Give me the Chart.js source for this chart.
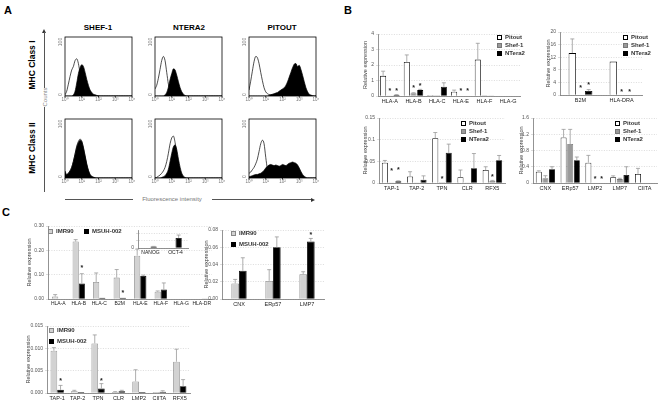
<!DOCTYPE html>
<html>
<head>
<meta charset="utf-8">
<script src="https://cdn.jsdelivr.net/npm/chart.js@4"></script>
<style>
body{margin:0;width:661px;height:404px;background:#fff;position:relative;overflow:hidden;font-family:'Liberation Sans',Arial,sans-serif}
.t{position:absolute;white-space:nowrap;line-height:1}
.c{transform:translate(-50%,-50%)}
.rot{transform:translate(-50%,-50%) rotate(-90deg)}
.hl{position:absolute;border-top:1px solid #555;height:0}
.vl{position:absolute;border-left:1px solid #555;width:0}
.ar{position:absolute;width:0;height:0}
canvas{position:absolute}
.lg{position:absolute;font-size:6px;font-weight:bold;color:#333;white-space:nowrap;line-height:1}
.lg i{display:inline-block;width:5px;height:5px;box-sizing:border-box;border:0.8px solid #000;margin-right:3px;vertical-align:-0.5px}
</style>
</head>
<body>
<div class="t" style="left:4px;top:4px;font:bold 11px 'Liberation Sans'">A</div>
<div class="t" style="left:344px;top:4px;font:bold 11px 'Liberation Sans'">B</div>
<div class="t" style="left:2px;top:206px;font:bold 11px 'Liberation Sans'">C</div>

<div class="t c" style="left:98px;top:27px;font:bold 8px 'Liberation Sans'">SHEF-1</div>
<div class="t c" style="left:189px;top:27px;font:bold 8px 'Liberation Sans'">NTERA2</div>
<div class="t c" style="left:282px;top:27px;font:bold 8px 'Liberation Sans'">PITOUT</div>
<div class="t rot" style="left:32px;top:65px;font:bold 8.5px 'Liberation Sans'">MHC Class I</div>
<div class="t rot" style="left:32px;top:148px;font:bold 8.5px 'Liberation Sans'">MHC Class II</div>
<div class="ar" style="left:42px;top:29px;border-left:2px solid transparent;border-right:2px solid transparent;border-bottom:4px solid #333"></div>
<div class="vl" style="left:44px;top:32px;height:56px"></div>
<div class="t rot" style="left:44.5px;top:97px;font:6px 'Liberation Sans';color:#888">Counts</div>
<div class="vl" style="left:44px;top:107px;height:85px"></div>
<div class="hl" style="left:65px;top:199px;width:68px"></div>
<div class="t c" style="left:172px;top:199px;font:6px 'Liberation Sans';color:#777">Fluorescence intensity</div>
<div class="hl" style="left:212px;top:199px;width:100px"></div>
<div class="ar" style="left:311px;top:197.5px;border-top:2px solid transparent;border-bottom:2px solid transparent;border-left:4px solid #333"></div>

<script>
// flow cytometry histograms (x = log10 fluorescence, y = counts)
const decades = [0,0.1,0.2,0.3,0.4,0.5,0.6,0.7,0.8,0.9,1,1.1,1.2,1.3,1.4,1.5,1.6,1.7,1.8,1.9,2,2.1,2.2,2.3,2.4,2.5,2.6,2.7,2.8,2.9,3,3.1,3.2,3.3,3.4,3.5,3.6,3.7,3.8,3.9,4];
const shefI_iso = [2,8,20,33,44,50,60,63,55,38, 22,10,5,2,1,0,0,0,0,0, 0,0,0,0,0,0,0,0,0,0, 0,0,0,0,0,0,0,0,0,0, 0];
const shefI_ab  = [0,0,0,0,0,2,8,22,38,48, 53,50,40,28,18,10,6,3,2,1, 0.5,0,0,0,0,0,0,0,0,0, 0,0,0,0,0,0,0,0,0,0, 0];
const nteraI_iso = [12,18,30,45,60,67,60,40,20,8, 3,1,0,0,0,0,0,0,0,0, 0,0,0,0,0,0,0,0,0,0, 0,0,0,0,0,0,0,0,0,0, 0];
const nteraI_ab  = [0,0,0,0,0,0,2,6,15,28, 38,46,44,35,24,14,7,3,1,0, 0,0,0,0,0,0,0,0,0,0, 0,0,0,0,0,0,0,0,0,0, 0];
const pitI_iso = [10,25,42,58,67,65,55,40,26,14, 7,4,2.5,2,2,2,2,2,2,2, 2,1.5,1,0.5,0,0,0,0,0,0, 0,0,0,0,0,0,0,0,0,0, 0];
const pitI_ab  = [0,0,0,0,0,0,0,0,0,0, 0,0,1,2,3,4,5,6,8,10, 12,14,18,24,32,40,48,54,55,50, 52,45,35,24,14,7,3,1.5,0.5,0, 0];
const shefII_iso = [3,5,8,12,18,28,41,54,62,66, 62,50,36,22,12,5,2,1,0,0, 0,0,0,0,0,0,0,0,0,0, 0,0,0,0,0,0,0,0,0,0, 0];
const shefII_ab  = [12,6,8,12,18,28,40,52,60,64, 62,52,38,24,13,6,3,1.5,0.5,0, 0,0,0,0,0,0,0,0,0,0, 0,0,0,0,0,0,0,0,0,0, 0];
const nteraII_iso = [0,1,3,5,8,12,18,28,42,58, 68,71,60,40,20,8,3,1,0,0, 0,0,0,0,0,0,0,0,0,0, 0,0,0,0,0,0,0,0,0,0, 0];
const nteraII_ab  = [0,0,0,0,1,2,4,8,15,28, 42,53,56,48,32,18,8,3,1,0, 0,0,0,0,0,0,0,0,0,0, 0,0,0,0,0,0,0,0,0,0, 0];
const pitII_iso = [8,10,14,18,24,32,45,58,64,58, 35,15,6,3,2,1,0,0,0,0, 0,0,0,0,0,0,0,0,0,0, 0,0,0,0,0,0,0,0,0,0, 0];
const pitII_ab  = [2,3,4,5,6,6,7,8,10,13, 17,20,22,23,22,21,22,21,20,21, 23,22,21,23,25,26,27,26,25,22, 17,11,6,3,1,0,0,0,0,0, 0];
const histXTicks = [0,1,2,3,4];
const histYTicks = [0,100];

// panel B: Pitout / Shef-1 / NTera2
const seriesB = ['Pitout','Shef-1','NTera2'];
const catsB1 = ['HLA-A','HLA-B','HLA-C','HLA-E','HLA-F','HLA-G'];
const pitB1 = [1.3,2.2,0.07,0.28,2.35,0];
const pitB1Err = [0.3,0.45,0,0.1,1.05,0];
const shefB1 = [0.03,0.18,0.05,0,0.05,0];
const shefB1Err = [0,0.03,0,0,0,0];
const shefB1Star = [0.44,0.63,null,0.44,null,null];
const ntB1 = [0.07,0.38,0.6,0,0.03,0];
const ntB1Err = [0.02,0.05,0.25,0,0,0];
const ntB1Star = [0.44,0.76,null,0.44,null,null];

const catsB2 = ['B2M','HLA-DRA'];
const pitB2 = [13.3,10.6];
const pitB2Err = [4.5,0];
const shefB2 = [0.1,0];
const shefB2Star = [2.7,1.5];
const ntB2 = [1.3,0];
const ntB2Err = [0.4,0];
const ntB2Star = [3.5,1.5];

const catsB3 = ['TAP-1','TAP-2','TPN','CLR','RFX5'];
const pitB3 = [0.047,0.015,0.1035,0.0135,0.03];
const pitB3Err = [0.005,0.011,0.013,0.0165,0.0075];
const shefB3 = [0.001,0.001,0.002,0.001,0.005];
const shefB3Err = [0,0,0,0,0.001];
const shefB3Star = [0.0315,null,0.0135,null,0.0165];
const ntB3 = [0.004,0.0075,0.0697,0.034,0.0525];
const ntB3Err = [0.001,0.009,0.02,0.034,0.011];
const ntB3Star = [0.034,null,null,null,null];

const catsB4 = ['CNX','ERp57','LMP2','LMP7','CIITA'];
const pitB4 = [0.28,1.12,0.5,0.144,0.224];
const pitB4Err = [0.02,0.2,0.18,0.032,0.136];
const shefB4 = [0.12,0.96,0,0.096,0];
const shefB4Err = [0.06,0.36,0,0.02,0];
const shefB4Star = [null,null,0.14,null,null];
const ntB4 = [0.34,0.56,0,0.2,0];
const ntB4Err = [0.06,0.08,0,0.2,0];
const ntB4Star = [null,null,0.14,null,null];

// panel C: IMR90 / MSUH-002
const seriesC = ['IMR90','MSUH-002'];
const catsC1 = ['HLA-A','HLA-B','HLA-C','B2M','HLA-E','HLA-F','HLA-G','HLA-DR'];
const imrC1 = [0.01,0.236,0.07,0.088,0.178,0.03,0,0.001];
const imrC1Err = [0.008,0.008,0.037,0.033,0.027,0.003,0,0];
const msuhC1 = [0.001,0.064,0.005,0.005,0.095,0.039,0,0.002];
const msuhC1Err = [0,0.04,0,0,0.003,0.027,0,0];
const msuhC1Star = [null,0.132,null,0.031,null,null,null,null];

const catsIns = ['NANOG','OCT-4'];
const imrIns = [0.0005,0.0008];
const msuhIns = [0.004,0.028];
const msuhInsErr = [0.0005,0.008];

const catsC2 = ['CNX','ERp57','LMP7'];
const imrC2 = [0.018,0.021,0.0286];
const imrC2Err = [0.0047,0.013,0.003];
const msuhC2 = [0.0328,0.06,0.0667];
const msuhC2Err = [0.015,0.012,0.0035];
const msuhC2Star = [null,null,0.076];

const catsC3 = ['TAP-1','TAP-2','TPN','CLR','LMP2','CIITA','RFX5'];
const imrC3 = [0.00945,0.0004,0.0111,0.0002,0.0026,0.0002,0.007];
const imrC3Err = [0.0007,0.0002,0.0019,0.0001,0.0026,0,0.0028];
const msuhC3 = [0.0007,0.0002,0.001,0.0004,0.0002,0.0003,0.0015];
const msuhC3Err = [0.001,0,0.0011,0.0002,0,0.0002,0.0015];
const msuhC3Star = [0.003,null,0.003,null,null,null,null];

Chart.defaults.font.family = "'Liberation Sans', Arial, sans-serif";
const FONT = "'Liberation Sans', Arial, sans-serif";
const sup = ['\u2070','\u00b9','\u00b2','\u00b3','\u2074'];

// box round the histogram plus its tick labels
const histDeco = {
  id: 'histDeco',
  afterDraw(ch) {
    const a = ch.chartArea, c = ch.ctx, sx = ch.scales.x, sy = ch.scales.y;
    c.save();
    c.strokeStyle = '#000'; c.lineWidth = 0.8;
    c.strokeRect(a.left, a.top, a.right - a.left, a.bottom - a.top);
    c.fillStyle = '#777'; c.font = '4.5px ' + FONT;
    c.textAlign = 'center'; c.textBaseline = 'top';
    histXTicks.forEach(function (v) {
      const px = sx.getPixelForValue(v);
      c.fillText('10' + sup[v], px, a.bottom + 2);
      c.beginPath(); c.moveTo(px, a.bottom); c.lineTo(px, a.bottom + 1.5); c.stroke();
    });
    c.font = '5px ' + FONT; c.textBaseline = 'middle';
    histYTicks.forEach(function (v) {
      const py = sy.getPixelForValue(v);
      c.save();
      c.translate(a.left - 4, v ? py + 5 : py - 1.5);
      c.rotate(-Math.PI / 2);
      c.fillText(String(v), 0, 0);
      c.restore();
    });
    c.restore();
  }
};

// error bars (upper only), significance asterisks and category labels
const barExtras = {
  id: 'barExtras',
  afterDraw(ch, args, opts) {
    const c = ch.ctx, y = ch.scales.y, x = ch.scales.x, a = ch.chartArea;
    ch.data.datasets.forEach(function (ds, i) {
      const meta = ch.getDatasetMeta(i);
      meta.data.forEach(function (bar, j) {
        const e = ds.err ? ds.err[j] : 0;
        if (e) {
          const yt = y.getPixelForValue(ds.data[j] + e);
          c.save(); c.strokeStyle = '#999'; c.lineWidth = 0.8;
          c.beginPath(); c.moveTo(bar.x, bar.y); c.lineTo(bar.x, yt);
          c.moveTo(bar.x - 2, yt); c.lineTo(bar.x + 2, yt); c.stroke(); c.restore();
        }
        const s = ds.star ? ds.star[j] : null;
        if (s != null) {
          c.save(); c.fillStyle = '#222'; c.font = 'bold 7px ' + FONT;
          c.textAlign = 'center'; c.textBaseline = 'middle';
          c.fillText('*', bar.x, y.getPixelForValue(s) + 1.5); c.restore();
        }
      });
    });
    c.save(); c.fillStyle = '#222'; c.font = (opts.size || 5.5) + 'px ' + FONT;
    c.textAlign = 'center'; c.textBaseline = 'top';
    ch.data.labels.forEach(function (l, j) {
      c.fillText(l, x.getPixelForValue(j), a.bottom + 2.5);
    });
    c.restore();
  }
};

function mkHist(left, top, iso, ab) {
  const yW = 13, padT = 4, padR = 5, xH = 9, w = 67, h = 59;
  const cv = document.createElement('canvas');
  cv.width = yW + w + padR; cv.height = padT + h + xH;
  cv.style.left = (left - yW) + 'px'; cv.style.top = (top - padT) + 'px';
  document.body.appendChild(cv);
  new Chart(cv, {
    type: 'line',
    data: {
      labels: decades,
      datasets: [
        {data: iso, borderColor: '#000', borderWidth: 0.7, pointRadius: 0, fill: false, cubicInterpolationMode: 'monotone', order: 0},
        {data: ab, borderColor: '#000', backgroundColor: '#000', borderWidth: 0.7, pointRadius: 0, fill: 'origin', cubicInterpolationMode: 'monotone', order: 1}
      ]
    },
    options: {
      responsive: false, animation: false, devicePixelRatio: 1,
      layout: {padding: {top: padT, right: padR, left: 0, bottom: 0}},
      plugins: {legend: {display: false}, tooltip: {enabled: false}},
      scales: {
        x: {type: 'linear', min: 0, max: 4, grid: {display: false}, border: {display: false},
            ticks: {display: false}, afterFit: s => { s.height = xH; }},
        y: {min: 0, max: 100, grid: {display: false}, border: {display: false},
            ticks: {display: false}, afterFit: s => { s.width = yW; }}
      }
    },
    plugins: [histDeco]
  });
}

mkHist(65, 37, shefI_iso, shefI_ab);
mkHist(155, 37, nteraI_iso, nteraI_ab);
mkHist(249, 37, pitI_iso, pitI_ab);
mkHist(65, 119, shefII_iso, shefII_ab);
mkHist(155, 119, nteraII_iso, nteraII_ab);
mkHist(249, 119, pitII_iso, pitII_ab);

const styleB = [{bg: '#fff', bd: '#000'}, {bg: '#9a9a9a', bd: '#777'}, {bg: '#000', bd: '#000'}];
const styleC = [{bg: '#d2d2d2', bd: '#888'}, {bg: '#000', bd: '#000'}];

function mkBar(g, cats, series, styles, y) {
  const padT = 4, padR = 3, xH = 10;
  const cv = document.createElement('canvas');
  cv.width = g.right - g.x + g.yW + padR;
  cv.height = g.bottom - g.top + padT + xH;
  cv.style.left = (g.x - g.yW) + 'px'; cv.style.top = (g.top - padT) + 'px';
  document.body.appendChild(cv);
  new Chart(cv, {
    type: 'bar',
    data: {
      labels: cats,
      datasets: series.map(function (s, i) {
        return {label: s.name, data: s.data, err: s.err, star: s.star,
          backgroundColor: styles[i].bg, borderColor: styles[i].bd, borderWidth: 0.8,
          categoryPercentage: g.cat, barPercentage: g.bar};
      })
    },
    options: {
      responsive: false, animation: false, devicePixelRatio: 1,
      layout: {padding: {top: padT, right: padR, left: 0, bottom: 0}},
      plugins: {legend: {display: false}, tooltip: {enabled: false}, barExtras: {size: g.xf || 5.5}},
      scales: {
        x: {grid: {display: false}, border: {color: '#777', width: 0.8},
            ticks: {display: false}, afterFit: s => { s.height = xH; }},
        y: {min: 0, max: y.max,
            ticks: {stepSize: y.step, color: '#555', font: {size: 5}, padding: 2, callback: y.fmt},
            grid: {color: '#c4c4c4', lineWidth: 0.6, tickLength: 2},
            border: {color: '#777', width: 0.8, dash: [1, 1.5]},
            title: {display: !g.noTitle, text: 'Relative expression', color: '#444', font: {size: 5.5}, padding: 0},
            afterFit: s => { s.width = g.yW; }}
      }
    },
    plugins: [barExtras]
  });
}

function legend(x, y, gap, names, styles) {
  names.forEach(function (n, i) {
    const d = document.createElement('div');
    d.className = 'lg';
    d.style.left = x + 'px'; d.style.top = (y + i * gap) + 'px';
    d.innerHTML = '<i style="background:' + styles[i].bg + ';border-color:' + styles[i].bd + '"></i>' + n;
    document.body.appendChild(d);
  });
}

mkBar({x: 378, top: 33, right: 520, bottom: 96, yW: 16, cat: 0.85, bar: 0.9}, catsB1,
  [{name: seriesB[0], data: pitB1, err: pitB1Err}, {name: seriesB[1], data: shefB1, err: shefB1Err, star: shefB1Star}, {name: seriesB[2], data: ntB1, err: ntB1Err, star: ntB1Star}],
  styleB, {max: 4, step: 1, fmt: v => String(v)});
mkBar({x: 560, top: 31, right: 642, bottom: 95, yW: 15, cat: 0.6, bar: 0.9}, catsB2,
  [{name: seriesB[0], data: pitB2, err: pitB2Err}, {name: seriesB[1], data: shefB2, star: shefB2Star}, {name: seriesB[2], data: ntB2, err: ntB2Err, star: ntB2Star}],
  styleB, {max: 20, step: 4, fmt: v => String(v)});
mkBar({x: 379, top: 117, right: 505, bottom: 183, yW: 17, cat: 0.8, bar: 0.9}, catsB3,
  [{name: seriesB[0], data: pitB3, err: pitB3Err}, {name: seriesB[1], data: shefB3, err: shefB3Err, star: shefB3Star}, {name: seriesB[2], data: ntB3, err: ntB3Err, star: ntB3Star}],
  styleB, {max: 0.15, step: 0.05, fmt: v => v === 0 ? '0' : String(+v.toFixed(2))});
mkBar({x: 533, top: 117, right: 657, bottom: 183, yW: 15, cat: 0.8, bar: 0.9}, catsB4,
  [{name: seriesB[0], data: pitB4, err: pitB4Err}, {name: seriesB[1], data: shefB4, err: shefB4Err, star: shefB4Star}, {name: seriesB[2], data: ntB4, err: ntB4Err, star: ntB4Star}],
  styleB, {max: 1.6, step: 0.4, fmt: v => v === 0 ? '0' : v.toFixed(1)});

legend(497, 34, 8, seriesB, styleB);
legend(623, 34, 8, seriesB, styleB);
legend(461, 120, 8, seriesB, styleB);
legend(615, 120, 8, seriesB, styleB);

mkBar({x: 48, top: 225, right: 212, bottom: 299, yW: 22, cat: 0.6, bar: 1, xf: 5}, catsC1,
  [{name: seriesC[0], data: imrC1, err: imrC1Err}, {name: seriesC[1], data: msuhC1, err: msuhC1Err, star: msuhC1Star}],
  styleC, {max: 0.3, step: 0.1, fmt: v => v.toFixed(2)});
mkBar({x: 138, top: 229, right: 188, bottom: 248, yW: 12, cat: 0.5, bar: 1, xf: 5, noTitle: true}, catsIns,
  [{name: seriesC[0], data: imrIns}, {name: seriesC[1], data: msuhIns, err: msuhInsErr}],
  styleC, {max: 0.05, step: 0.01, fmt: v => v === 0 ? '0' : (Math.abs(v - 0.05) < 1e-9 ? '0.05' : '')});
mkBar({x: 222, top: 229, right: 324, bottom: 299, yW: 19, cat: 0.45, bar: 1}, catsC2,
  [{name: seriesC[0], data: imrC2, err: imrC2Err}, {name: seriesC[1], data: msuhC2, err: msuhC2Err, star: msuhC2Star}],
  styleC, {max: 0.08, step: 0.02, fmt: v => v.toFixed(2)});
mkBar({x: 47, top: 325, right: 190, bottom: 393, yW: 22, cat: 0.65, bar: 1}, catsC3,
  [{name: seriesC[0], data: imrC3, err: imrC3Err}, {name: seriesC[1], data: msuhC3, err: msuhC3Err, star: msuhC3Star}],
  styleC, {max: 0.015, step: 0.005, fmt: v => v.toFixed(3)});

legend(48, 228, 0, [seriesC[0]], [styleC[0]]);
legend(84, 228, 0, [seriesC[1]], [styleC[1]]);
legend(231, 230, 11, seriesC, styleC);
legend(49, 327, 11, seriesC, styleC);
</script>
</body>
</html>
